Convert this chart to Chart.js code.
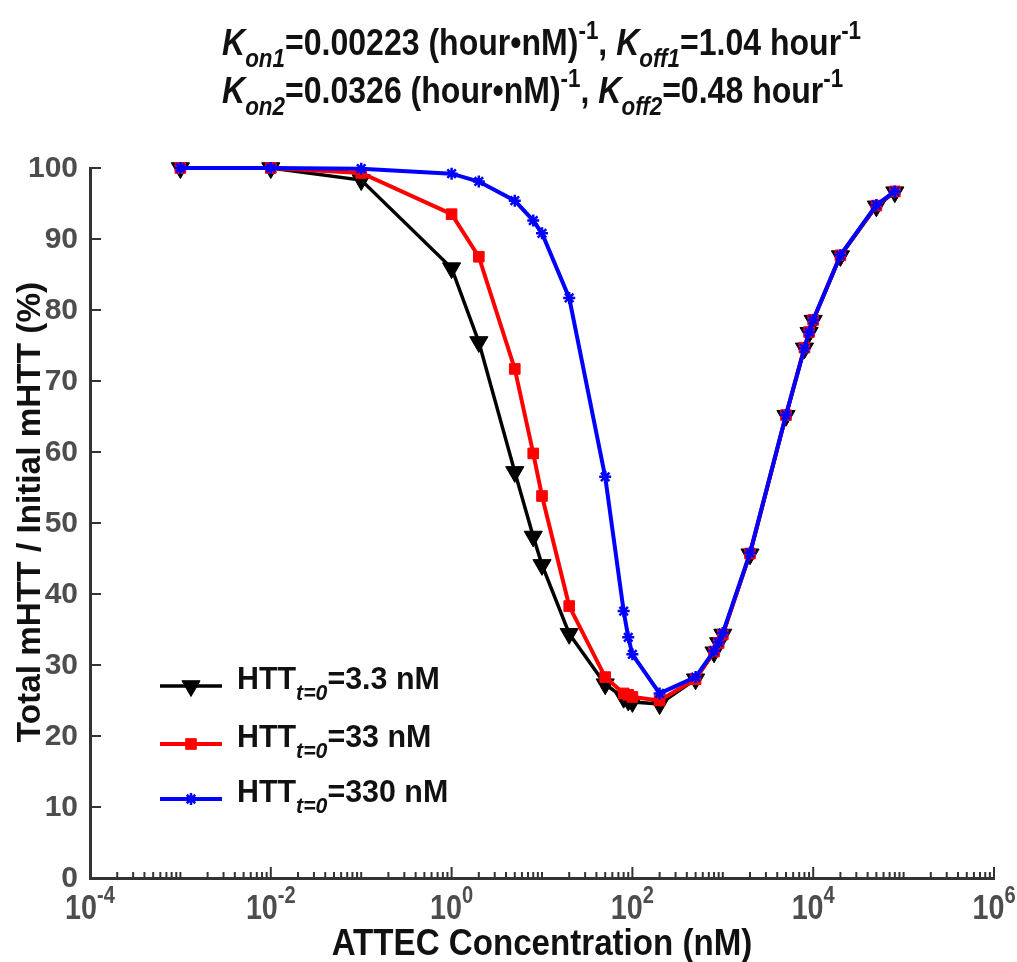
<!DOCTYPE html>
<html>
<head>
<meta charset="utf-8">
<script src="https://cdn.jsdelivr.net/npm/chart.js@4.4.0/dist/chart.umd.min.js"></script>
<style>
  html, body { margin: 0; padding: 0; background: #fff; }
</style>
</head>
<body>
<canvas id="chart" width="1017" height="962"></canvas>
<script>
// ATTEC concentration (nM), shared by all three simulations
const concentrations = [0.001, 0.01, 0.1, 1, 2, 5, 8, 10, 20, 50, 80, 90, 100, 200,
  500, 800, 900, 1000, 2000, 5000, 8000, 9000, 10000, 20000, 50000, 80000];
// Total mHTT / initial mHTT (%)
const htt3 = [100, 100, 98.3, 85.9, 75.5, 57.2, 48.1, 44.1, 34.4, 27.3, 25.4, 25.0, 24.8, 24.5,
  28.0, 31.8, 33.1, 34.3, 45.6, 65.1, 74.6, 76.8, 78.5, 87.6, 94.6, 96.6];
const htt33 = [100, 100, 99.3, 93.5, 87.5, 71.7, 59.8, 53.8, 38.3, 28.3, 26.0, 25.8, 25.5, 25.0,
  28.0, 31.9, 33.1, 34.3, 45.7, 65.2, 74.7, 76.9, 78.6, 87.7, 94.7, 96.7];
const htt330 = [100, 100, 99.9, 99.2, 98.1, 95.4, 92.6, 90.8, 81.7, 56.5, 37.6, 33.9, 31.5, 26.0,
  28.3, 32.0, 33.2, 34.5, 45.8, 65.2, 74.6, 76.9, 78.6, 87.7, 94.8, 96.7];
const seriesLabels = ["=3.3 nM", "=33 nM", "=330 nM"];
const xLabelExponents = [-4, -2, 0, 2, 4, 6];
const yTickValues = [0, 10, 20, 30, 40, 50, 60, 70, 80, 90, 100];

const SANS = "'Liberation Sans', Arial, sans-serif";
const AXIS_COLOR = "#333333";
const TICK_TEXT = "#4d4d4d";

const toPoints = ys => concentrations.map((c, i) => ({ x: c, y: ys[i] }));

const styles = [
  { color: "#000000", pointStyle: "triangle", rotation: 180, radius: 10.5, lineWidth: 3.5, border: 1 },
  { color: "#ff0000", pointStyle: "rect", rotation: 0, radius: 7.5, lineWidth: 4, border: 1 },
  { color: "#0000ff", pointStyle: "star", rotation: 0, radius: 6, lineWidth: 4, border: 2.5 }
];

function makeDataset(ys, st, order) {
  return {
    data: toPoints(ys),
    borderColor: st.color,
    backgroundColor: st.color,
    borderWidth: st.lineWidth,
    pointStyle: st.pointStyle,
    pointRotation: st.rotation,
    pointRadius: st.radius,
    pointBorderWidth: st.border,
    pointBackgroundColor: st.color,
    pointBorderColor: st.color,
    tension: 0,
    clip: false,
    order: order
  };
}

// draws a run of text pieces with italic / sub / sup parts, squeezed horizontally
function drawRich(ctx, parts, x, baseline, size, squeeze, color, align) {
  const fontFor = p => (p.i ? "italic " : "") + "bold " + (p.s ? size * 0.7 : size) + "px " + SANS;
  let total = 0;
  parts.forEach(p => { ctx.font = fontFor(p); p.w = ctx.measureText(p.t).width; total += p.w; });
  const start = align === "left" ? x : x - total * squeeze / 2;
  ctx.save();
  ctx.translate(start, baseline);
  ctx.scale(squeeze, 1);
  ctx.fillStyle = color;
  ctx.textAlign = "left";
  ctx.textBaseline = "alphabetic";
  let cx = 0;
  parts.forEach(p => {
    ctx.font = fontFor(p);
    const dy = p.s === "sub" ? size * 0.33 : p.s === "sup" ? -size * 0.45 : 0;
    ctx.fillText(p.t, cx, dy);
    cx += p.w;
  });
  ctx.restore();
}

const decor = {
  id: "decor",
  afterDraw(chart) {
    const ctx = chart.ctx;
    const xs = chart.scales.x, ys = chart.scales.y;
    const area = chart.chartArea;
    ctx.save();

    // inward ticks
    ctx.strokeStyle = AXIS_COLOR;
    ctx.lineWidth = 2;
    xs.ticks.forEach(t => {
      const px = xs.getPixelForValue(t.value);
      const e = Math.log10(t.value);
      const major = Math.abs(e - Math.round(e)) < 1e-9 && Math.round(e) % 2 === 0;
      const len = major ? 11 : 6;
      ctx.beginPath();
      ctx.moveTo(px, area.bottom);
      ctx.lineTo(px, area.bottom - len);
      ctx.stroke();
    });
    ys.ticks.forEach(t => {
      const py = ys.getPixelForValue(t.value);
      ctx.beginPath();
      ctx.moveTo(area.left, py);
      ctx.lineTo(area.left + 11, py);
      ctx.stroke();
    });

    // y tick labels
    ctx.fillStyle = TICK_TEXT;
    ctx.font = "bold 30px " + SANS;
    ctx.textAlign = "right";
    ctx.textBaseline = "middle";
    ys.ticks.forEach(t => {
      ctx.fillText(String(t.value), area.left - 12, ys.getPixelForValue(t.value) + 1);
    });

    // x tick labels 10^n
    xLabelExponents.forEach(n => {
      const px = xs.getPixelForValue(Math.pow(10, n));
      drawRich(ctx, [{ t: "10" }, { t: String(n), s: "sup" }], px, 919, 35, 0.82, TICK_TEXT, "center");
    });

    // axis titles
    drawRich(ctx, [{ t: "ATTEC Concentration (nM)" }], (area.left + area.right) / 2, 955, 36, 0.92, "#111", "center");
    ctx.save();
    ctx.translate(40, 512);
    ctx.rotate(-Math.PI / 2);
    drawRich(ctx, [{ t: "Total mHTT / Initial mHTT (%)" }], 0, 0, 34, 0.98, "#111", "center");
    ctx.restore();

    // title
    drawRich(ctx, [
      { t: "K", i: 1 }, { t: "on1", i: 1, s: "sub" }, { t: "=0.00223 (hour\u2022nM)" }, { t: "-1", s: "sup" },
      { t: ", " }, { t: "K", i: 1 }, { t: "off1", i: 1, s: "sub" }, { t: "=1.04 hour" }, { t: "-1", s: "sup" }
    ], 222, 55, 36, 0.89, "#111", "left");
    drawRich(ctx, [
      { t: "K", i: 1 }, { t: "on2", i: 1, s: "sub" }, { t: "=0.0326 (hour\u2022nM)" }, { t: "-1", s: "sup" },
      { t: ", " }, { t: "K", i: 1 }, { t: "off2", i: 1, s: "sub" }, { t: "=0.48 hour" }, { t: "-1", s: "sup" }
    ], 222, 103, 36, 0.89, "#111", "left");

    // legend
    const rows = [686, 744, 799];
    styles.forEach((st, i) => {
      const y = rows[i];
      ctx.strokeStyle = st.color;
      ctx.lineWidth = st.lineWidth;
      ctx.beginPath();
      ctx.moveTo(160, y);
      ctx.lineTo(222, y);
      ctx.stroke();
      ctx.fillStyle = st.color;
      ctx.lineWidth = st.border;
      Chart.helpers.drawPoint(ctx, { pointStyle: st.pointStyle, rotation: st.rotation, radius: st.radius, borderWidth: st.border }, 191, y);
      drawRich(ctx, [{ t: "HTT" }, { t: "t=0", i: 1, s: "sub" }, { t: seriesLabels[i] }], 237, y + 3, 32, 0.95, "#111", "left");
    });

    ctx.restore();
  }
};

new Chart(document.getElementById("chart").getContext("2d"), {
  type: "line",
  data: {
    datasets: [
      makeDataset(htt3, styles[0], 3),
      makeDataset(htt33, styles[1], 2),
      makeDataset(htt330, styles[2], 1)
    ]
  },
  options: {
    responsive: false,
    animation: false,
    layout: { padding: { top: 168, right: 23, left: 0, bottom: 0 } },
    plugins: { legend: { display: false }, tooltip: { enabled: false }, title: { display: false } },
    scales: {
      x: {
        type: "logarithmic",
        min: 1e-4,
        max: 1e6,
        grid: { display: false },
        border: { display: true, color: AXIS_COLOR, width: 3 },
        ticks: { display: false },
        afterBuildTicks: scale => {
          const t = [];
          for (let k = -4; k < 6; k++) {
            for (let m = 1; m < 10; m++) t.push({ value: m * Math.pow(10, k) });
          }
          t.push({ value: 1e6 });
          scale.ticks = t;
        },
        afterFit: scale => { scale.height = 84; }
      },
      y: {
        min: 0,
        max: 100,
        grid: { display: false },
        border: { display: true, color: AXIS_COLOR, width: 3 },
        ticks: { display: false },
        afterBuildTicks: scale => { scale.ticks = yTickValues.map(v => ({ value: v })); },
        afterFit: scale => { scale.width = 90; }
      }
    }
  },
  plugins: [decor]
});
</script>
</body>
</html>
